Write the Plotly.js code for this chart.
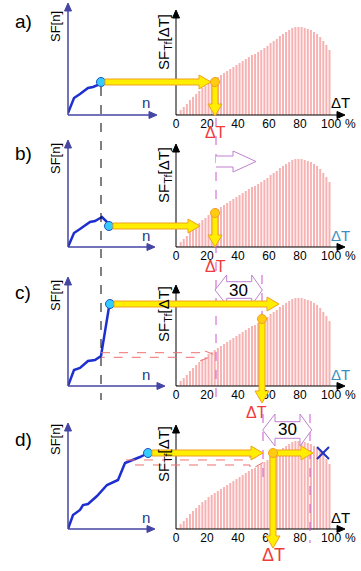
<!DOCTYPE html>
<html><head><meta charset="utf-8">
<script src="https://cdn.plot.ly/plotly-3.0.1.min.js"></script>
<style>html,body{margin:0;padding:0;background:#fff}#c{width:361px;height:571px}</style>
</head><body><div id="c"></div>
<script>
// ---------- data ----------
const dT   = [1,3,5,7,9,11,13,15,17,19,21,23,25,27,29,31,33,35,37,39,41,43,45,47,49,51,53,55,57,59,61,63,65,67,69,71,73,75,77,79,81,83,85,87,89,91,93,95,97,99];
const sfTf = [1,5,8,11,15,18,21,24,27,29,32,34,36,38,40,42,44,46,48,50,52,54,56,58,60,61,63,65,67,69,72,74,76,79,81,83,85,87,88,88,88,87,86,85,83,81,78,74,70,65];
const nA  = [0,6,12,20,25,30,33];
const sfA = [2,17,21,27,28,30,33];
const nB  = [0,6,12,22,27,34,39,41];
const sfB = [0,14,18,25,26,30,25,21];
const nC  = [0,6,12,20,27,33,41,42];
const sfC = [0,16,18,25,26,30,79,82];
const nD  = [0,5,12,15,20,29,39,50,57,65,72,80];
const sfD = [0,14,19,24,25,33,44,49,66,69,72,76];
const tickVals = [0,20,40,60,80,100];
const tickText = ['0','20','40','60','80','100'];
const panelLetters = ['a)','b)','c)','d)'];
const curvesN  = [nA,nB,nC,nD];
const curvesSF = [sfA,sfB,sfC,sfD];

// ---------- geometry helpers (pixel -> paper) ----------
const W=361,H=571;
const P=x=>x/W, Q=y=>1-y/H;
const bases=[115,247,386,529];
const leftTops=[3,140,277,423];
const leftXEnds=[157,155,165,155];
const rightTops=[10,144,285,425];
const lblY=[[26,42],[158,175],[295,314],[439,454]];
const letterY=[22,153,292,440];
const axisLblColor=['#000','#3a8fc0','#3a8fc0','#000'];

const traces=[], shapes=[], annotations=[];
const layout={width:W,height:H,margin:{l:0,r:0,t:0,b:0},paper_bgcolor:'#fff',plot_bgcolor:'rgba(0,0,0,0)',showlegend:false};

function poly(pts,close){return pts.map((p,i)=>(i?'L':'M')+P(p[0]).toFixed(5)+','+Q(p[1]).toFixed(5)).join(' ')+(close?' Z':'');}
function pathShape(pts,close,line,fill){shapes.push({type:'path',xref:'paper',yref:'paper',layer:'above',path:poly(pts,close),line:line,fillcolor:fill||'rgba(0,0,0,0)'});}
function lineShape(x0,y0,x1,y1,line){shapes.push({type:'line',xref:'paper',yref:'paper',layer:'above',x0:P(x0),y0:Q(y0),x1:P(x1),y1:Q(y1),line:line});}
function circ(cx,cy,r,fill,lc){shapes.push({type:'circle',xref:'paper',yref:'paper',layer:'above',x0:P(cx-r),x1:P(cx+r),y0:Q(cy+r),y1:Q(cy-r),fillcolor:fill,line:{color:lc,width:1}});}
function txt(x,y,t,size,color,angle){annotations.push({xref:'paper',yref:'paper',x:P(x),y:Q(y),text:t,showarrow:false,xanchor:'center',yanchor:'middle',textangle:angle||0,font:{family:'Liberation Sans, Arial, sans-serif',size:size,color:color||'#000'}});}
const YF='#ffee00', YL='#f0a020';
function arrowH(x0,x1,y){const s=3,h=7,L=12;pathShape([[x0,y-s],[x1-L,y-s],[x1-L,y-h],[x1,y],[x1-L,y+h],[x1-L,y+s],[x0,y+s]],true,{color:YL,width:1},YF);}
function arrowV(x,y0,y1){const s=3,h=7,L=12;pathShape([[x-s,y0],[x-s,y1-L],[x-h,y1-L],[x,y1],[x+h,y1-L],[x+s,y1-L],[x+s,y0]],true,{color:YL,width:1},YF);}
function orange(cx,cy){circ(cx,cy,4.5,'#ffcc11',YL);}
function axArrowR(x,y,c){pathShape([[x-8,y-3.5],[x,y],[x-8,y+3.5]],true,{color:c,width:1},c);}
function axArrowU(x,y,c){pathShape([[x-3.5,y+8],[x,y],[x+3.5,y+8]],true,{color:c,width:1},c);}

// ---------- panels ----------
for(let p=0;p<4;p++){
  const b=bases[p], li=2*p+1, ri=2*p+2;
  const lx='x'+(li===1?'':li), ly='y'+(li===1?'':li), rx='x'+ri, ry='y'+ri;
  layout['xaxis'+(li===1?'':li)]={domain:[P(68),P(158)],range:[0,90],visible:false,anchor:ly,fixedrange:true};
  layout['yaxis'+(li===1?'':li)]={domain:[Q(b),Q(b-110)],range:[0,110],visible:false,anchor:lx,fixedrange:true};
  layout['xaxis'+ri]={domain:[P(176),P(345)],range:[0,109],anchor:ry,showgrid:false,zeroline:false,showline:false,ticks:'',
    tickmode:'array',tickvals:tickVals,ticktext:tickText,tickfont:{family:'Liberation Sans, Arial, sans-serif',size:12,color:'#000'},fixedrange:true};
  layout['yaxis'+ri]={domain:[Q(b),Q(b-105)],range:[0,105],visible:false,anchor:rx,fixedrange:true};

  traces.push({type:'bar',x:dT,y:sfTf,xaxis:rx,yaxis:ry,width:1.3,marker:{color:'#f7b3b3',line:{width:0}},hoverinfo:'skip'});
  const nn=curvesN[p], ss=curvesSF[p];
  traces.push({type:'scatter',mode:'lines',x:nn,y:ss,xaxis:lx,yaxis:ly,line:{color:'#1e2fd0',width:2.5},hoverinfo:'skip'});
  traces.push({type:'scatter',mode:'markers',x:[nn[nn.length-1]],y:[ss[ss.length-1]],xaxis:lx,yaxis:ly,
    marker:{size:9,color:'#33ccff',line:{color:'#2050c0',width:1}},hoverinfo:'skip'});

  // axes with arrows
  const ic='#4545a5';
  lineShape(68,b,leftXEnds[p]-6,b,{color:ic,width:1.5}); axArrowR(leftXEnds[p],b,ic);
  lineShape(68,b,68,leftTops[p]+6,{color:ic,width:1.5}); axArrowU(68,leftTops[p],ic);
  lineShape(176,b,339,b,{color:'#000',width:1}); axArrowR(345,b,'#000');
  lineShape(176,b,176,rightTops[p]+6,{color:'#000',width:1}); axArrowU(176,rightTops[p],'#000');

  txt(23,letterY[p],panelLetters[p],19,'#000');
  txt(55,lblY[p][0],'SF[n]',13,'#000',-90);
  txt(164,lblY[p][1],'SF<sub>Tf</sub>[ΔT]',15,'#000',-90);
  txt(146,b-12,'n',15,'#203a8a');
  txt(340,b-12,'ΔT',15,axisLblColor[p]);
  txt(350,b+9,'%',12,'#000');
}

// ---------- decorations ----------
const MG={color:'#cc55cc',width:1,dash:'dash'};
lineShape(101,87,101,400,{color:'#000',width:1,dash:'dash'});
lineShape(216,118,216,403,MG);
lineShape(262,275,262,316,MG);
lineShape(263,414,263,482,MG);
lineShape(310,414,310,543,MG);

// outline arrows
const PK={color:'#f07070',width:1,dash:'dash'};
pathShape([[101,352.7],[200,352.7],[200,349],[215,355],[200,361],[200,357.3],[101,357.3]],false,PK);
pathShape([[126,460],[250,460],[250,455],[263,462.5],[250,470],[250,465],[128,465]],false,PK);
const PU={color:'#c080d0',width:1};
pathShape([[216,156],[233,156],[233,151],[256,161.5],[233,172],[233,167],[216,167]],false,PU,'#fff');
pathShape([[215,290],[226.7,275],[226.7,281.7],[251.7,281.7],[251.7,275],[262.3,290],[251.7,305],[251.7,298.3],[226.7,298.3],[226.7,305]],true,PU,'#fff');
pathShape([[262.7,430],[275,414],[275,421.7],[300,421.7],[300,414],[311.7,430],[300,446],[300,438.3],[275,438.3],[275,446]],true,PU,'#fff');

// yellow arrows
arrowH(105,211,82); arrowV(215,84,116); orange(215,82);
arrowH(113,200,226); arrowV(215,213,247); orange(215,213);
arrowH(114,279,304); arrowV(262,319,403); orange(262,319);
arrowH(152,263,453); arrowH(276,313,453); arrowV(273,455,548); orange(273,453);
lineShape(317,447,329,459,{color:'#2030c0',width:2});
lineShape(317,459,329,447,{color:'#2030c0',width:2});

txt(238,290,'30',17,'#000');
txt(287,429,'30',17,'#000');
const RD='#ee3b3b';
txt(215,132,'ΔT',16,RD);
txt(215,266,'ΔT',16,RD);
txt(256,412,'ΔT',16,RD);
txt(273,555,'ΔT',18,RD);

layout.shapes=shapes; layout.annotations=annotations;
Plotly.newPlot('c',traces,layout,{staticPlot:true,displayModeBar:false});
</script></body></html>
